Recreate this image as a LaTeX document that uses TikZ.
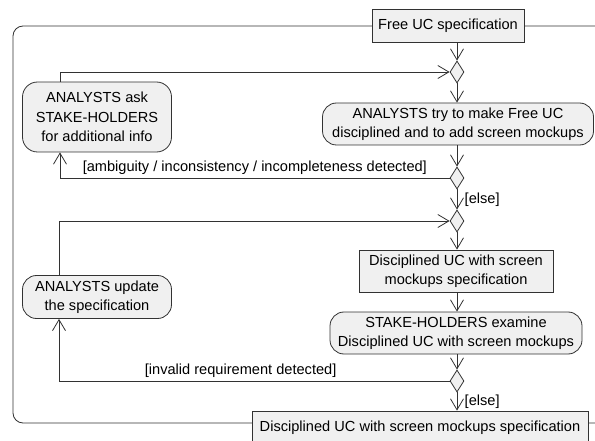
\documentclass[tikz,border=0pt]{standalone}
\usepackage{fontspec}
\setmainfont{Liberation Sans}
\usetikzlibrary{shapes.geometric,arrows.meta}
\definecolor{boxfill}{RGB}{240,240,240}
\definecolor{edgec}{RGB}{50,50,50}

\begin{document}
\begin{tikzpicture}[x=1pt,y=-1pt,
    every node/.style={font=\fontsize{14.6}{19.5}\selectfont},
    objbox/.style={draw=edgec,fill=boxfill,line width=0.8pt,inner sep=0pt,align=center},
    actbox/.style={objbox,rounded corners=14pt},
    choice/.style={diamond,draw=edgec,fill=boxfill,line width=0.8pt,inner sep=0pt,minimum width=14pt,minimum height=22pt},
    flow/.style={draw=edgec,line width=0.8pt,-{Straight Barb[length=11pt,width=13pt]}}]
      \useasboundingbox (0,0) rectangle (595,441);
      \draw[edgec,line width=0.8pt,rounded corners=10pt] (13,26) rectangle (620,423);

      \node[objbox,minimum width=152pt,minimum height=33pt] (free) at (448,26) {Free UC specification};
      \node[choice] (m1) at (457,72) {};
      \node[actbox,minimum width=271pt,minimum height=42pt] (try) at (458,124) {ANALYSTS try to make Free UC\\disciplined and to add screen mockups};
      \node[choice] (d1) at (457,178) {};
      \node[choice] (m2) at (457,221) {};
      \node[objbox,minimum width=194pt,minimum height=42pt] (disc) at (456,271) {Disciplined UC with screen\\mockups specification};
      \node[actbox,minimum width=252pt,minimum height=42pt] (exam) at (456,333) {STAKE-HOLDERS examine\\Disciplined UC with screen mockups};
      \node[choice] (d2) at (457,381) {};
      \node[objbox,minimum width=336pt,minimum height=34pt] (final) at (420,428) {Disciplined UC with screen mockups specification};
      \node[actbox,minimum width=149pt,minimum height=70pt,rounded corners=15pt] (ask) at (97,117) {ANALYSTS ask\\STAKE-HOLDERS\\for additional info};
      \node[actbox,minimum width=149pt,minimum height=43pt] (upd) at (97,297) {ANALYSTS update\\the specification};

      \coordinate (a1) at (60,72);
      \coordinate (a2) at (60,178);
      \coordinate (u1) at (59,221);
      \coordinate (u2) at (59,381);

      \draw[flow] (free.south -| m1) -- (m1.north);
      \draw[flow] (m1.south) -- (m1.south |- try.north);
      \draw[flow] (try.south -| d1) -- (d1.north);
      \draw[flow] (d1.south) -- node[right,xshift=4pt] {[else]} (m2.north);
      \draw[flow] (m2.south) -- (m2.south |- disc.north);
      \draw[flow] (disc.south -| m2) -- (exam.north -| m2);
      \draw[flow] (exam.south -| d2) -- (d2.north);
      \draw[flow] (d2.south) -- node[right,xshift=4pt] {[else]} (d2.south |- final.north);

      \draw[flow] (d1.west) -- node[above] {[ambiguity / inconsistency / incompleteness detected]} (a2) -- (a2 |- ask.south);
      \draw[flow] (a2 |- ask.north) -- (a1) -- (m1.west);
      \draw[flow] (d2.west) -- node[above,pos=0.535] {[invalid requirement detected]} (u2) -- (u2 |- upd.south);
      \draw[flow] (u1 |- upd.north) -- (u1) -- (m2.west);
    \end{tikzpicture}
\end{document}
